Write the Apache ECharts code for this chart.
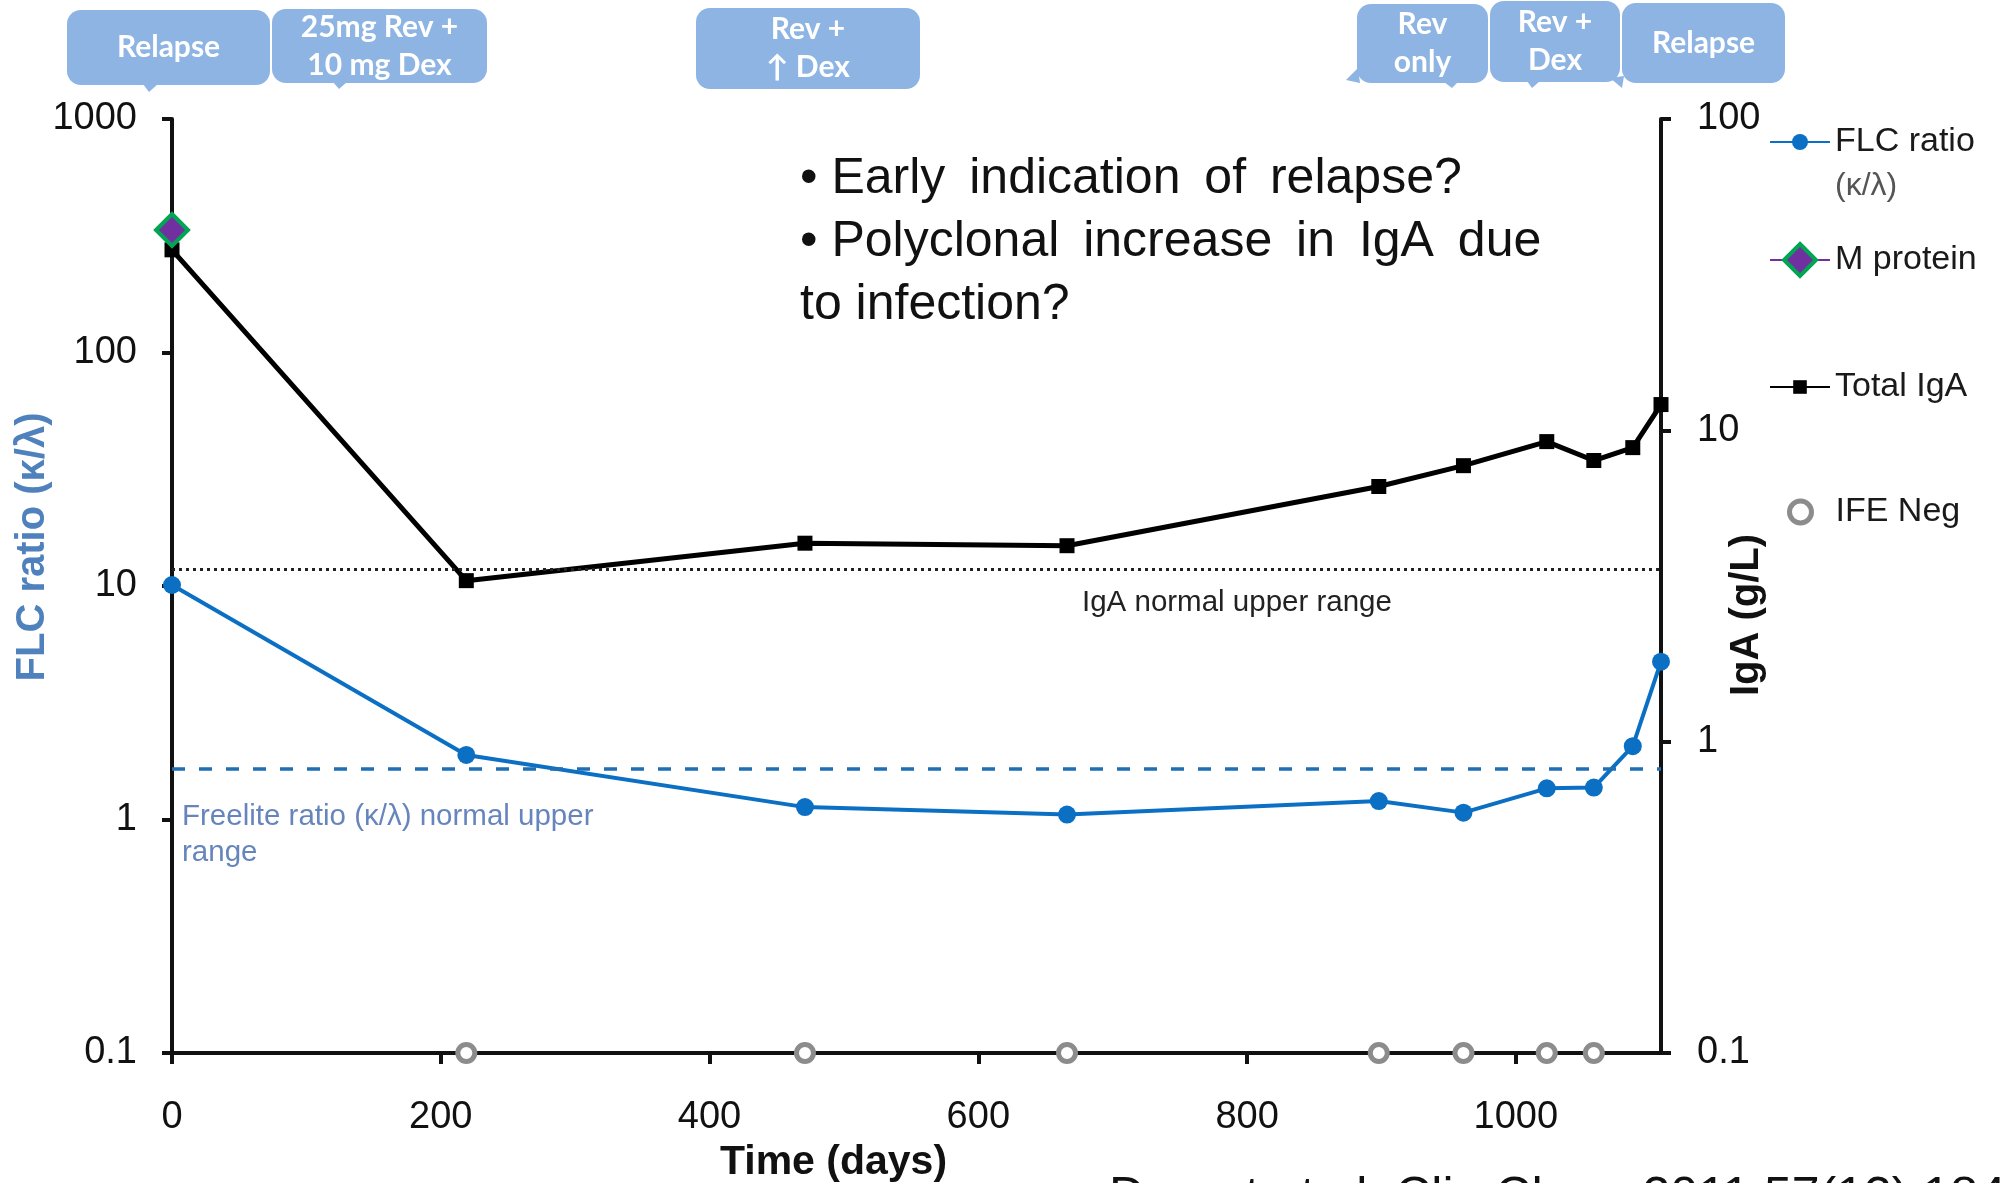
<!DOCTYPE html>
<html>
<head>
<meta charset="utf-8">
<title>FLC ratio and IgA over time</title>
<script src="https://cdn.jsdelivr.net/npm/echarts@6/dist/echarts.min.js"></script>
<style>
html, body { margin: 0; padding: 0; background: #fff; }
#main { width: 2004px; height: 1183px; }
</style>
</head>
<body>
<div id="main"></div>
<script>
// sampling days, shared by FLC ratio and total IgA
const days = [0, 219, 471, 666, 898, 961, 1023, 1058, 1087, 1108];
const flcRatio = [10.1, 1.89, 1.13, 1.05, 1.2, 1.07, 1.36, 1.37, 2.06, 4.74];
const totalIgA = [38, 3.29, 4.34, 4.26, 6.6, 7.7, 9.2, 8.0, 8.8, 12.1];
const mProtein = [[0, 44]];
const ifeNegDays = [219, 471, 666, 898, 961, 1023, 1058];
const flcUpperNormal = 1.65;
const igaUpperNormal = 3.57;
const xTicks = [0, 200, 400, 600, 800, 1000];
const treatments = ['Relapse', '25mg Rev +\n10 mg Dex', 'Rev +\n↑ Dex', 'Rev\nonly', 'Rev +\nDex', 'Relapse'];

const flcBlue = '#0b70c4';
const boxColor = '#8eb4e3';
const ink = '#111';
const fontArial = 'Liberation Sans';

// callout boxes across the top (pixel layout)
const boxLayout = [
  {x: 67, y: 10, w: 203, h: 75, tails: [[[143, 84], [149, 92], [158, 84]]]},
  {x: 272, y: 9, w: 215, h: 74, tails: [[[333, 82], [339, 89], [347, 82]]]},
  {x: 696, y: 8, w: 224, h: 81, tails: []},
  {x: 1357, y: 4, w: 131, h: 79, tails: [[[1358, 68], [1346, 80], [1360, 83]], [[1444, 82], [1452, 88], [1458, 82]]]},
  {x: 1490, y: 1, w: 130, h: 81, tails: [[[1527, 81], [1532, 88], [1540, 81]], [[1610, 78], [1622, 88], [1624, 76]]]},
  {x: 1622, y: 3, w: 163, h: 80, tails: []}
];

const graphics = [];
boxLayout.forEach((b, i) => {
  graphics.push({type: 'rect', z: 10, shape: {x: b.x, y: b.y, width: b.w, height: b.h, r: 14}, style: {fill: boxColor}});
  b.tails.forEach(t => graphics.push({type: 'polygon', z: 10, shape: {points: t}, style: {fill: boxColor}}));
  graphics.push({
    type: 'text', z: 11, x: b.x + b.w / 2, y: b.y + b.h / 2,
    style: {text: treatments[i], fill: '#fff', font: 'bold 30px Lato', lineHeight: 38,
      align: 'center', textAlign: 'center', verticalAlign: 'middle', textVerticalAlign: 'middle'}
  });
});

function note(text, x, y, font, fill, lineHeight) {
  graphics.push({
    type: 'text', z: 12, x: x, y: y,
    style: {text: text, fill: fill, font: font, lineHeight: lineHeight,
      align: 'left', textAlign: 'left', verticalAlign: 'middle', textVerticalAlign: 'middle'}
  });
}
// justified lines in the original: a thin space widens each word gap
note('• Early \u2009indication \u2009of \u2009relapse?\n• Polyclonal \u2009increase \u2009in \u2009IgA \u2009due\nto infection?',
  800, 242, '50px ' + fontArial, ink, 63);
note('IgA normal upper range', 1082, 603, '29.5px ' + fontArial, '#222', 30);
note('Freelite ratio (κ/λ) normal upper\nrange', 182, 835, '29.5px ' + fontArial, '#6685bd', 36);
note('(κ/λ)', 1835, 186, '32px ' + fontArial, '#555', 34);
note('Durant et al. Clin Chem 2011;57(12):1845', 1109, 1198, '50px ' + fontArial, ink, 52);

const chart = echarts.init(document.getElementById('main'));

const axisLineStyle = {color: ink, width: 4};
const tickLabel = {fontSize: 38, fontFamily: fontArial, color: ink, formatter: v => String(v)};
const legendText = {fontSize: 34, fontFamily: fontArial, color: '#1a1a1a'};

const option = {
  animation: false,
  backgroundColor: '#fff',
  grid: {left: 172, right: 343, top: 119, bottom: 130, outerBoundsMode: 'none'},
  xAxis: {
    type: 'value', min: 0, max: 1108,
    name: 'Time (days)', nameLocation: 'middle', nameGap: 88,
    nameTextStyle: {fontFamily: fontArial, fontWeight: 'bold', fontSize: 41, color: ink, padding: [0, 166, 0, 0]},
    axisLine: {show: true, onZero: false, lineStyle: axisLineStyle},
    axisTick: {show: true, length: 11, customValues: xTicks, lineStyle: axisLineStyle},
    axisLabel: Object.assign({margin: 46, customValues: xTicks}, tickLabel),
    splitLine: {show: false}
  },
  yAxis: [
    {
      type: 'log', logBase: 10, min: 0.1, max: 1000, position: 'left',
      name: 'FLC ratio (κ/λ)', nameLocation: 'middle', nameRotate: 90, nameGap: 119, nameMoveOverlap: false,
      nameTextStyle: {fontFamily: fontArial, fontWeight: 'bold', fontSize: 40, color: '#4f81bd', padding: [0, 0, 0, 78]},
      axisLine: {show: true, lineStyle: axisLineStyle},
      axisTick: {show: true, length: 10, lineStyle: axisLineStyle},
      axisLabel: Object.assign({margin: 35}, tickLabel),
      splitLine: {show: false}
    },
    {
      type: 'log', logBase: 10, min: 0.1, max: 100, position: 'right',
      name: 'IgA (g/L)', nameLocation: 'middle', nameRotate: 90, nameGap: 66, nameMoveOverlap: false,
      nameTextStyle: {fontFamily: fontArial, fontWeight: 'bold', fontSize: 40, color: ink, padding: [0, 58, 0, 0]},
      axisLine: {show: true, lineStyle: axisLineStyle},
      axisTick: {show: true, length: 10, lineStyle: axisLineStyle},
      axisLabel: Object.assign({margin: 36}, tickLabel),
      splitLine: {show: false}
    }
  ],
  legend: [
    {data: ['FLC ratio'], left: 1769, top: 125, padding: 0, itemWidth: 60, itemHeight: 20, selectedMode: false, textStyle: legendText},
    {data: ['M protein'], left: 1769, top: 242, padding: 0, itemWidth: 60, itemHeight: 40, selectedMode: false, textStyle: legendText,
      itemStyle: {borderWidth: 4}},
    {data: ['Total IgA'], left: 1769, top: 370, padding: 0, itemWidth: 60, itemHeight: 17, selectedMode: false, textStyle: legendText},
    {data: ['IFE Neg'], left: 1787, top: 495, padding: 0, itemWidth: 60, itemHeight: 22, icon: 'circle', selectedMode: false, textStyle: legendText,
      itemStyle: {borderWidth: 5}}
  ],
  graphic: graphics,
  series: [
    {
      name: 'FLC ratio', type: 'line', yAxisIndex: 0, clip: false, z: 3,
      data: days.map((d, i) => [d, flcRatio[i]]),
      symbol: 'circle', symbolSize: 18,
      lineStyle: {color: flcBlue, width: 4},
      itemStyle: {color: flcBlue},
      markLine: {
        silent: true, symbol: 'none', label: {show: false},
        lineStyle: {color: '#1f6fb4', type: [13, 14], width: 3.5},
        data: [{yAxis: flcUpperNormal}]
      }
    },
    {
      name: 'Total IgA', type: 'line', yAxisIndex: 1, clip: false, z: 3,
      data: days.map((d, i) => [d, totalIgA[i]]),
      symbol: 'rect', symbolSize: 15,
      lineStyle: {color: '#000', width: 5},
      itemStyle: {color: '#000'},
      markLine: {
        silent: true, symbol: 'none', label: {show: false},
        lineStyle: {color: '#222', type: [3, 4], width: 3},
        data: [{yAxis: igaUpperNormal}]
      }
    },
    {
      name: 'M protein', type: 'line', yAxisIndex: 1, clip: false, z: 4,
      data: mProtein,
      symbol: 'diamond', symbolSize: 32,
      lineStyle: {color: '#7030a0', width: 4},
      itemStyle: {color: '#7030a0', borderColor: '#00a651', borderWidth: 4}
    },
    {
      name: 'IFE Neg', type: 'scatter', yAxisIndex: 0, clip: false, z: 5,
      data: ifeNegDays.map(d => [d, 0.1]),
      symbol: 'circle', symbolSize: 17,
      itemStyle: {color: '#fff', borderColor: '#8c8c8c', borderWidth: 5, opacity: 1}
    }
  ]
};

chart.setOption(option);
</script>
</body>
</html>
